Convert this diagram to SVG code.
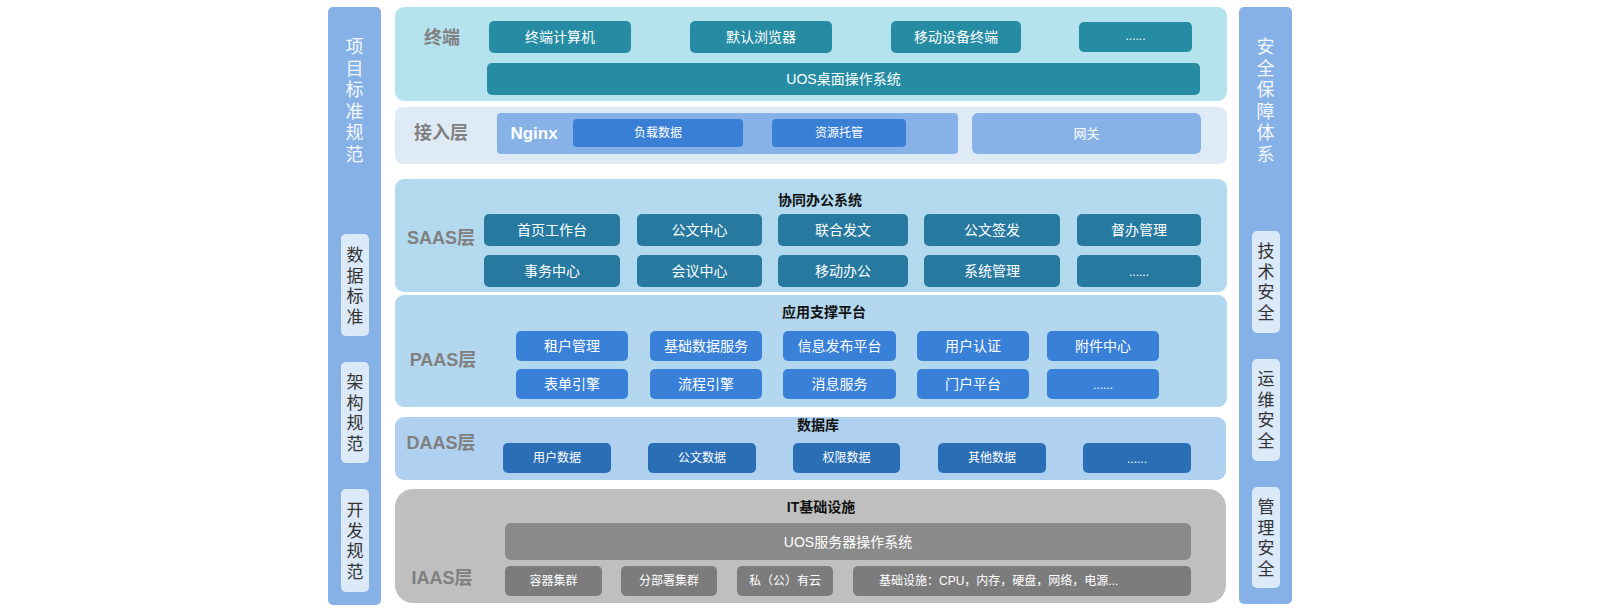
<svg xmlns="http://www.w3.org/2000/svg" width="1600" height="611" viewBox="0 0 1600 611">
<style>
text{font-family:"Liberation Sans","Noto Sans CJK SC",sans-serif;dominant-baseline:central;text-anchor:middle}
.bar{fill:#86b1e6}
.inner{fill:#dbe9f8}
.vt{font-size:18px;fill:#f4f8fd}
.vi{font-size:17px;fill:#333333}
.lbl{font-size:18px;font-weight:bold;fill:#808080}
.ttl{font-size:14px;font-weight:bold;fill:#111111}
.bt{font-size:14px;fill:#ffffff}
.bs{font-size:12px;fill:#ffffff}
.teal{fill:#268ca3}
.blue{fill:#3a7fd6}
.saas{fill:#27799f}
.paas{fill:#3880d8}
.daas{fill:#2a6fb6}
.g1{fill:#8a8a8a}
.g2{fill:#7c7c7c}
</style>
<rect width="1600" height="611" fill="#ffffff"/>

<g id="left-bar">
<rect class="bar" x="328" y="7" width="53" height="598" rx="5"/>
<text class="vt"><tspan x="354.5" y="47">项</tspan><tspan x="354.5" y="68.6">目</tspan><tspan x="354.5" y="90.2">标</tspan><tspan x="354.5" y="111.8">准</tspan><tspan x="354.5" y="133.4">规</tspan><tspan x="354.5" y="155">范</tspan></text>
</g>
<g id="left-data-std">
<rect class="inner" x="341" y="234" width="28" height="102" rx="5"/>
<text class="vi"><tspan x="355" y="255">数</tspan><tspan x="355" y="275.5">据</tspan><tspan x="355" y="296">标</tspan><tspan x="355" y="316.5">准</tspan></text>
</g>
<g id="left-arch">
<rect class="inner" x="341" y="362" width="28" height="101" rx="5"/>
<text class="vi"><tspan x="355" y="382">架</tspan><tspan x="355" y="402.5">构</tspan><tspan x="355" y="423">规</tspan><tspan x="355" y="443.5">范</tspan></text>
</g>
<g id="left-dev">
<rect class="inner" x="341" y="489" width="28" height="103" rx="5"/>
<text class="vi"><tspan x="355" y="510">开</tspan><tspan x="355" y="530.5">发</tspan><tspan x="355" y="551">规</tspan><tspan x="355" y="571.5">范</tspan></text>
</g>

<g id="right-bar">
<rect class="bar" x="1239" y="7" width="53" height="597" rx="5"/>
<text class="vt"><tspan x="1265.5" y="47">安</tspan><tspan x="1265.5" y="68.6">全</tspan><tspan x="1265.5" y="90.2">保</tspan><tspan x="1265.5" y="111.8">障</tspan><tspan x="1265.5" y="133.4">体</tspan><tspan x="1265.5" y="155">系</tspan></text>
</g>
<g id="right-tech">
<rect class="inner" x="1252" y="231" width="28" height="102" rx="5"/>
<text class="vi"><tspan x="1266" y="251">技</tspan><tspan x="1266" y="271.5">术</tspan><tspan x="1266" y="292">安</tspan><tspan x="1266" y="312.5">全</tspan></text>
</g>
<g id="right-ops">
<rect class="inner" x="1252" y="359" width="28" height="102" rx="5"/>
<text class="vi"><tspan x="1266" y="379">运</tspan><tspan x="1266" y="399.5">维</tspan><tspan x="1266" y="420">安</tspan><tspan x="1266" y="440.5">全</tspan></text>
</g>
<g id="right-mgmt">
<rect class="inner" x="1252" y="487" width="28" height="101" rx="5"/>
<text class="vi"><tspan x="1266" y="507">管</tspan><tspan x="1266" y="527.5">理</tspan><tspan x="1266" y="548">安</tspan><tspan x="1266" y="568.5">全</tspan></text>
</g>

<g id="layer-terminal">
<rect x="395" y="7" width="832" height="94" rx="9" fill="#b4e3ed"/>
<text class="lbl" x="442" y="38">终端</text>
<rect class="teal" x="489" y="21" width="142" height="32" rx="5"/>
<text class="bt" x="560" y="37">终端计算机</text>
<rect class="teal" x="690" y="21" width="142" height="32" rx="5"/>
<text class="bt" x="761" y="37">默认浏览器</text>
<rect class="teal" x="891" y="21" width="130" height="32" rx="5"/>
<text class="bt" x="956" y="37">移动设备终端</text>
<rect class="teal" x="1079" y="22" width="113" height="30" rx="5"/>
<text class="bs" x="1135.5" y="36">......</text>
<rect class="teal" x="487" y="63" width="713" height="32" rx="5"/>
<text class="bt" x="843.5" y="79">UOS桌面操作系统</text>
</g>

<g id="layer-access">
<rect x="395" y="107" width="832" height="57" rx="8" fill="#deebf7"/>
<text class="lbl" x="441" y="133">接入层</text>
<rect x="497" y="113" width="461" height="41" rx="4" fill="#87b2e7"/>
<text x="534" y="133" style="font-size:17px;font-weight:bold;fill:#ffffff">Nginx</text>
<rect class="blue" x="573" y="119" width="170" height="28" rx="4"/>
<text class="bs" x="658" y="133">负载数据</text>
<rect class="blue" x="772" y="119" width="134" height="28" rx="4"/>
<text class="bs" x="839" y="133">资源托管</text>
<rect x="972" y="113" width="229" height="41" rx="6" fill="#87b2e7"/>
<text class="bs" x="1086.5" y="133" style="font-size:13px">网关</text>
</g>

<g id="layer-saas">
<rect x="395" y="179" width="832" height="113" rx="9" fill="#b3d9ee"/>
<text class="lbl" x="441" y="238">SAAS层</text>
<text class="ttl" x="820" y="200">协同办公系统</text>
<rect class="saas" x="484" y="214" width="136" height="32" rx="5"/><text class="bt" x="552" y="230">首页工作台</text>
<rect class="saas" x="637" y="214" width="125" height="32" rx="5"/><text class="bt" x="699.5" y="230">公文中心</text>
<rect class="saas" x="778" y="214" width="130" height="32" rx="5"/><text class="bt" x="843" y="230">联合发文</text>
<rect class="saas" x="924" y="214" width="136" height="32" rx="5"/><text class="bt" x="992" y="230">公文签发</text>
<rect class="saas" x="1077" y="214" width="124" height="32" rx="5"/><text class="bt" x="1139" y="230">督办管理</text>
<rect class="saas" x="484" y="255" width="136" height="32" rx="5"/><text class="bt" x="552" y="271">事务中心</text>
<rect class="saas" x="637" y="255" width="125" height="32" rx="5"/><text class="bt" x="699.5" y="271">会议中心</text>
<rect class="saas" x="778" y="255" width="130" height="32" rx="5"/><text class="bt" x="843" y="271">移动办公</text>
<rect class="saas" x="924" y="255" width="136" height="32" rx="5"/><text class="bt" x="992" y="271">系统管理</text>
<rect class="saas" x="1077" y="255" width="124" height="32" rx="5"/><text class="bs" x="1139" y="272">......</text>
</g>

<g id="layer-paas">
<rect x="395" y="295" width="832" height="112" rx="9" fill="#b3d7ee"/>
<text class="lbl" x="443" y="360">PAAS层</text>
<text class="ttl" x="824" y="312">应用支撑平台</text>
<rect class="paas" x="516" y="331" width="112" height="30" rx="5"/><text class="bt" x="572" y="346">租户管理</text>
<rect class="paas" x="650" y="331" width="112" height="30" rx="5"/><text class="bt" x="706" y="346">基础数据服务</text>
<rect class="paas" x="783" y="331" width="113" height="30" rx="5"/><text class="bt" x="839.5" y="346">信息发布平台</text>
<rect class="paas" x="917" y="331" width="112" height="30" rx="5"/><text class="bt" x="973" y="346">用户认证</text>
<rect class="paas" x="1047" y="331" width="112" height="30" rx="5"/><text class="bt" x="1103" y="346">附件中心</text>
<rect class="paas" x="516" y="369" width="112" height="30" rx="5"/><text class="bt" x="572" y="384">表单引擎</text>
<rect class="paas" x="650" y="369" width="112" height="30" rx="5"/><text class="bt" x="706" y="384">流程引擎</text>
<rect class="paas" x="783" y="369" width="113" height="30" rx="5"/><text class="bt" x="839.5" y="384">消息服务</text>
<rect class="paas" x="917" y="369" width="112" height="30" rx="5"/><text class="bt" x="973" y="384">门户平台</text>
<rect class="paas" x="1047" y="369" width="112" height="30" rx="5"/><text class="bs" x="1103" y="385">......</text>
</g>

<g id="layer-daas">
<rect x="395" y="417" width="831" height="63" rx="9" fill="#afd0ef"/>
<text class="lbl" x="441" y="443">DAAS层</text>
<text class="ttl" x="818" y="425">数据库</text>
<rect class="daas" x="503" y="443" width="108" height="30" rx="5"/><text class="bs" x="557" y="458">用户数据</text>
<rect class="daas" x="648" y="443" width="108" height="30" rx="5"/><text class="bs" x="702" y="458">公文数据</text>
<rect class="daas" x="793" y="443" width="107" height="30" rx="5"/><text class="bs" x="846.5" y="458">权限数据</text>
<rect class="daas" x="938" y="443" width="108" height="30" rx="5"/><text class="bs" x="992" y="458">其他数据</text>
<rect class="daas" x="1083" y="443" width="108" height="30" rx="5"/><text class="bs" x="1137" y="459">......</text>
</g>

<g id="layer-iaas">
<rect x="395" y="489" width="831" height="114" rx="18" fill="#bfbfbf"/>
<text class="lbl" x="442" y="578">IAAS层</text>
<text class="ttl" x="821" y="507">IT基础设施</text>
<rect class="g1" x="505" y="523" width="686" height="37" rx="6"/>
<text class="bt" x="848" y="541.5">UOS服务器操作系统</text>
<rect class="g2" x="505" y="566" width="97" height="30" rx="5"/><text class="bs" x="553.5" y="581">容器集群</text>
<rect class="g2" x="621" y="566" width="96" height="30" rx="5"/><text class="bs" x="669" y="581">分部署集群</text>
<rect class="g2" x="737" y="566" width="96" height="30" rx="5"/><text class="bs" x="785" y="581">私（公）有云</text>
<rect class="g2" x="853" y="566" width="338" height="30" rx="5"/><text class="bs" x="879" y="581" style="text-anchor:start">基础设施：CPU，内存，硬盘，网络，电源...</text>
</g>

<g id="connectors"></g>
</svg>
